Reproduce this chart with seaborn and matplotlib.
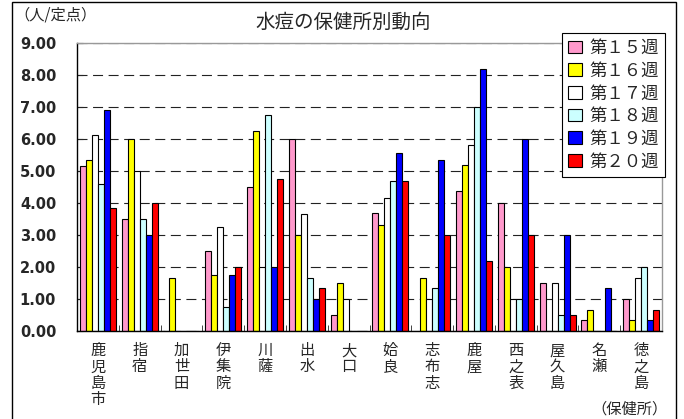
import matplotlib
matplotlib.use("Agg")
import matplotlib.pyplot as plt
from matplotlib.patches import Rectangle
import seaborn as sns
import pandas as pd
import numpy as np

# 保健所と各週の定点当たり報告数
sites = ["鹿児島市", "指宿", "加世田", "伊集院", "川薩", "出水", "大口",
         "姶良", "志布志", "鹿屋", "西之表", "屋久島", "名瀬", "徳之島"]
weeks = ["第１５週", "第１６週", "第１７週", "第１８週", "第１９週", "第２０週"]
w15 = [5.17, 3.50, 0.00, 2.50, 4.50, 6.00, 0.50, 3.70, 0.00, 4.38, 4.00, 1.50, 0.33, 1.00]
w16 = [5.35, 6.00, 1.67, 1.75, 6.25, 3.00, 1.50, 3.30, 1.67, 5.20, 2.00, 0.00, 0.67, 0.33]
w17 = [6.13, 5.00, 0.00, 3.25, 2.00, 3.67, 1.00, 4.15, 1.00, 5.80, 1.00, 1.50, 0.00, 1.67]
w18 = [4.60, 3.50, 0.00, 0.75, 6.75, 1.67, 0.00, 4.70, 1.33, 7.00, 1.00, 0.50, 0.00, 2.00]
w19 = [6.90, 3.00, 0.00, 1.75, 2.00, 1.00, 0.00, 5.55, 5.33, 8.20, 6.00, 3.00, 1.33, 0.33]
w20 = [3.83, 4.00, 0.00, 2.00, 4.75, 1.33, 0.00, 4.70, 3.00, 2.20, 3.00, 0.50, 0.00, 0.67]
colors = ["#FF99CC", "#FFFF00", "#FFFFFF", "#CCFFFF", "#0000FF", "#FF0000"]

rows = []
for wk, vals in zip(weeks, [w15, w16, w17, w18, w19, w20]):
    for s, v in zip(sites, vals):
        rows.append({"site": s, "week": wk, "value": v})
df = pd.DataFrame(rows)

sns.set_style("white")
plt.rcParams["font.family"] = ["Noto Sans CJK JP", "DejaVu Sans"]

fig = plt.figure(figsize=(6.84, 4.19), dpi=100)
ax = fig.add_axes([77 / 684, 1 - 331 / 419, (662 - 77) / 684, (331 - 43) / 419])

sns.barplot(data=df, x="site", y="value", hue="week", order=sites,
            hue_order=weeks, palette=colors, edgecolor="black",
            linewidth=0.8, width=0.86, saturation=1, ax=ax)

ax.set_ylim(0, 9)
ax.set_xlim(-0.5, len(sites) - 0.5)
ax.set_yticks(np.arange(0, 10, 1))
ax.set_yticklabels([f"{v:.2f}" for v in range(10)], fontsize=10.5,
                   fontweight="bold", family=["DejaVu Sans"])
ax.set_xticks(range(len(sites)))
ax.set_xticklabels(["\n".join(s) for s in sites], fontsize=11,
                   linespacing=0.95, va="top")
ax.set_xticks(np.arange(-0.5, len(sites), 1), minor=True)
ax.tick_params(axis="y", direction="in", length=4, pad=15, left=True)
ax.tick_params(axis="x", which="major", length=0, pad=8)
ax.tick_params(axis="x", which="minor", direction="in", length=4, bottom=True)
ax.set_xlabel("")
ax.set_ylabel("")

ax.set_axisbelow(True)
ax.yaxis.grid(True, linestyle=(0, (9, 5)), color="#222222", linewidth=0.8)
ax.xaxis.grid(False)
for side in ["left", "bottom"]:
    ax.spines[side].set_color("black")
    ax.spines[side].set_linewidth(1.0)
for side in ["top", "right"]:
    ax.spines[side].set_color("#999999")
    ax.spines[side].set_linewidth(1.0)

ax.legend_.remove()
handles = [Rectangle((0, 0), 1, 1, facecolor=c, edgecolor="black", linewidth=0.8)
           for c in colors]
leg = fig.legend(handles, weeks, loc="upper right",
                 bbox_to_anchor=(665 / 684, 1 - 33 / 419), fontsize=12.5,
                 frameon=True, fancybox=False, framealpha=1,
                 edgecolor="black", handlelength=0.8, handleheight=0.75,
                 handletextpad=0.45, labelspacing=0.27, borderpad=0.35,
                 borderaxespad=0)
leg.get_frame().set_linewidth(0.8)

fig.text(343 / 684, 1 - 22 / 419, "水痘の保健所別動向", fontsize=14,
         ha="center", va="center")
fig.text(14 / 684, 1 - 15 / 419, "（人/定点）", fontsize=11,
         ha="left", va="center")
fig.text(630 / 684, 1 - 409 / 419, "（保健所）", fontsize=11,
         ha="center", va="center")

fig.patches.append(Rectangle((12 / 684, -0.05), (676 - 12) / 684,
                             1.05 - 2 / 419, transform=fig.transFigure,
                             fill=False, edgecolor="black", linewidth=1.0))

fig.savefig("out.png", dpi=100)
